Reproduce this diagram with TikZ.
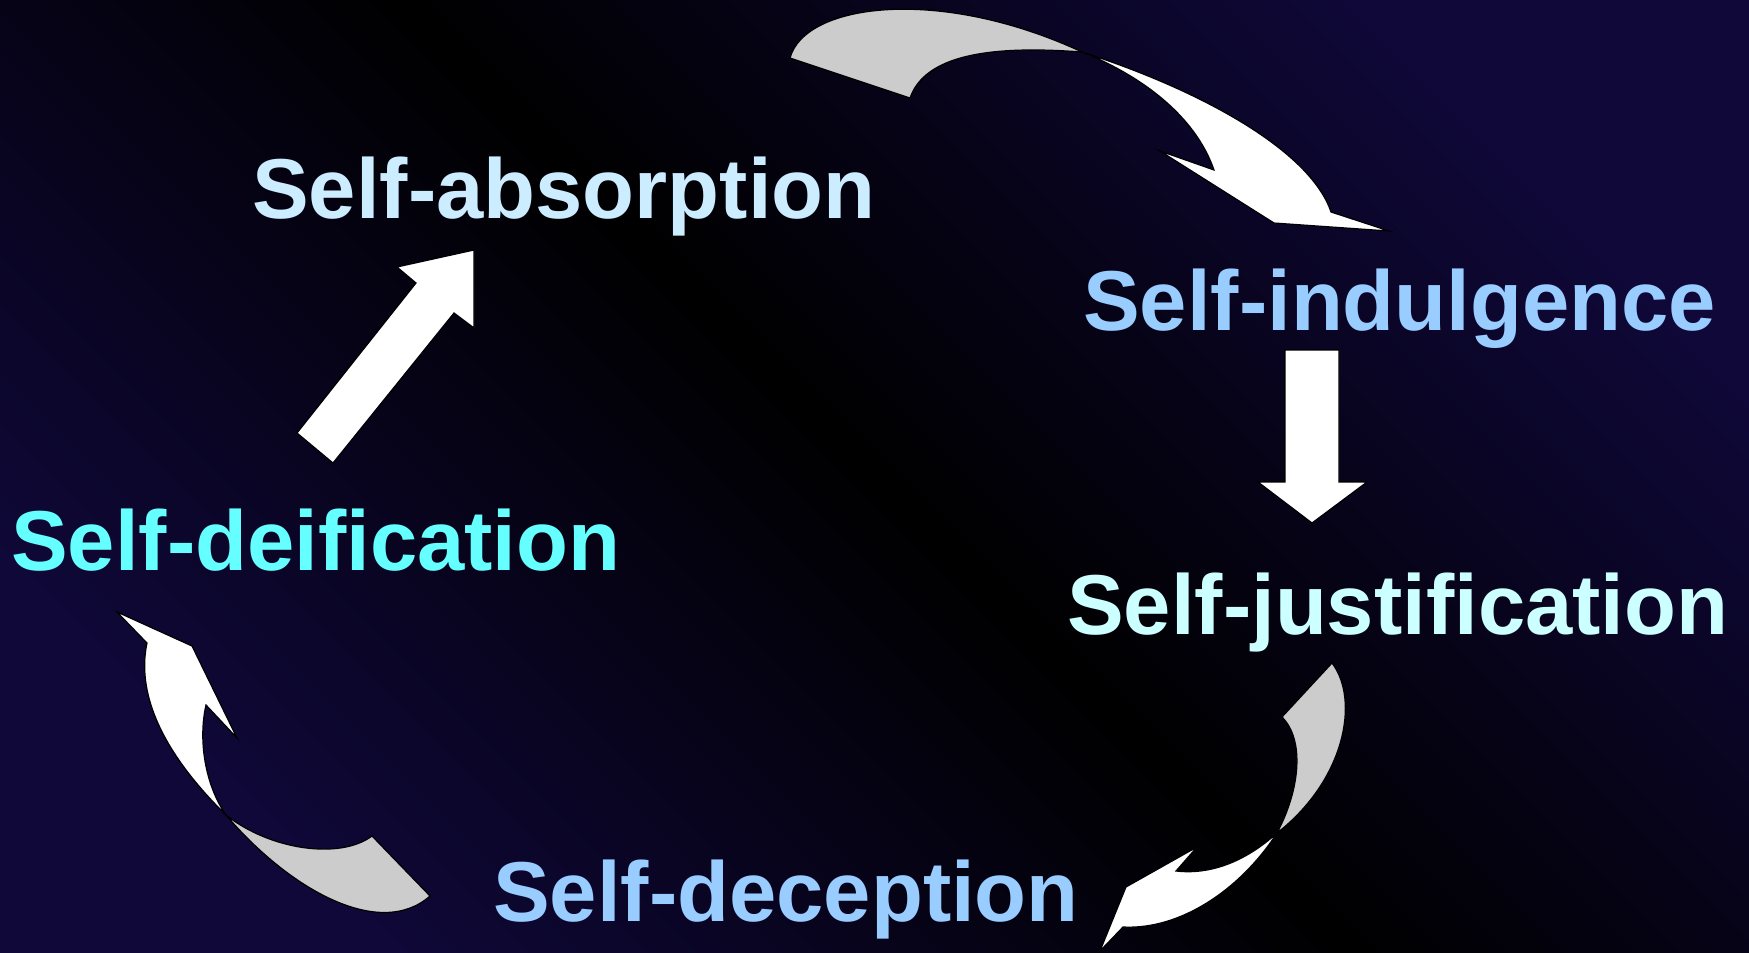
\documentclass[tikz,border=0pt]{standalone}
\usepackage{fontspec}
\setmainfont{Liberation Sans}
\definecolor{navy}{HTML}{0F0838}
\definecolor{ribbon}{HTML}{CCCCCC}
\definecolor{paleblue}{HTML}{CCECFF}
\definecolor{skyblue}{HTML}{99CCFF}
\definecolor{palecyan}{HTML}{CCFFFF}
\definecolor{brightcyan}{HTML}{66FFFF}
\tikzset{
  stage/.style={font=\fontsize{85}{100}\selectfont\bfseries, inner sep=0pt, anchor=base west},
  front/.style={fill=white, draw=black, line width=1.2pt},
  back/.style={fill=ribbon, draw=black, line width=1.2pt}
}
\begin{document}
\begin{tikzpicture}[x=1pt,y=-1pt]
    \useasboundingbox (0,0) rectangle (1749,953);
    \shade[top color=navy, bottom color=navy, middle color=black, shading angle=-45] (0,0) rectangle (1749,953);
    \node[stage, text=paleblue] (absorption) at (252,218) {Self-absorption};
    \node[stage, text=skyblue] (indulgence) at (1083,330) {Self-indulgence};
    \node[stage, text=palecyan] (justification) at (1067,634) {Self-justification};
    \node[stage, text=skyblue] (deception) at (493,921) {Self-deception};
    \node[stage, text=brightcyan] (deification) at (11,570) {Self-deification};
    \draw[front] (297,433)--(416,283)--(397,267)--(474,250)--(474,328)--(454,313)--(333,463)--cycle;
    \draw[front] (1285,350)--(1339,350)--(1339,482)--(1367,482)--(1312,523)--(1258,482)--(1285,482)--cycle;
    \draw[back] (790,58) .. controls (805,3) and (940,-14) .. (1082,52) .. controls (990,45) and (925,55) .. (910,98)--cycle;
    \draw[front] (1082,52) .. controls (1200,90) and (1310,150) .. (1331,212)--(1389,231)--(1274,223)--(1160,151)--(1214,170) .. controls (1195,115) and (1140,75) .. (1082,52)--cycle;
    \draw[back] (1332,663) .. controls (1360,700) and (1345,780) .. (1277,833) .. controls (1300,790) and (1305,740) .. (1282,717)--cycle;
    \draw[front] (1277,833) .. controls (1245,862) and (1210,875) .. (1176,871)--(1197,847)--(1126,887)--(1100,951)--(1123,927) .. controls (1180,930) and (1240,890) .. (1277,833)--cycle;
    \draw[front] (147,643)--(117,612)--(192,646)--(237,738)--(206,705) .. controls (198,740) and (205,785) .. (226,815) .. controls (170,760) and (135,700) .. (147,643)--cycle;
    \draw[back] (226,815) .. controls (270,850) and (340,860) .. (372,836)--(430,896) .. controls (380,940) and (290,890) .. (226,815)--cycle;
\end{tikzpicture}
\end{document}
